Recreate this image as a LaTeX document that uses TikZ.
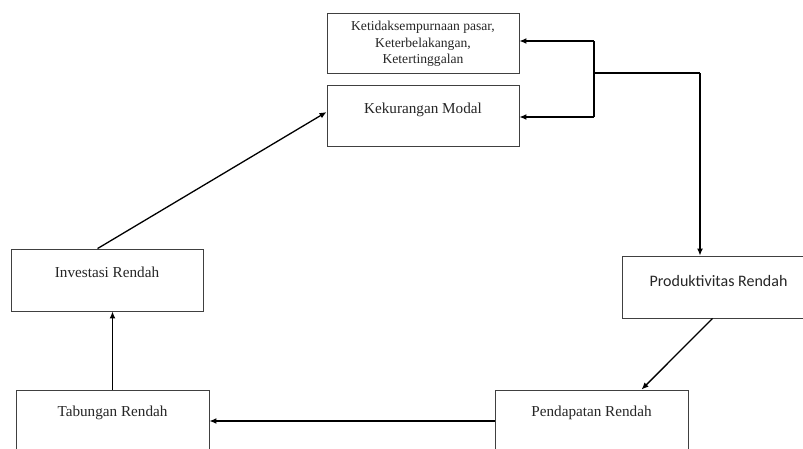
\documentclass[tikz,border=0pt]{standalone}
\usepackage{fontspec}
\setmainfont{Liberation Serif}
\newfontfamily\calfont{Carlito}
\usetikzlibrary{calc,arrows.meta}
\begin{document}
\begin{tikzpicture}[x=1pt,y=-1pt,
  box/.style={draw=black!75,line width=0.9pt,minimum width=192pt,minimum height=61pt,inner sep=0pt,fill=white},
  lbl/.style={text=black!85,font=\fontsize{15.2}{17}\selectfont,inner sep=0pt},
  arr/.style={draw=black,line width=1.3pt,-{Latex[length=7pt,width=6pt]}},
  ln/.style={draw=black,line width=1.3pt}]
\useasboundingbox (0,0) rectangle (803,448);
\clip (0,0) rectangle (803,448);
\fill[white] (0,0) rectangle (803,448);
% boxes
\node[box,minimum height=60pt] (k1) at (423,43) {};
\node[box] (k2) at (423,115.5) {};
\node[box,minimum height=62pt] (inv) at (107,280) {};
\node[box,minimum width=193pt,minimum height=62pt] (tab) at (112.5,421) {};
\node[box,minimum width=193pt,minimum height=62pt] (prod) at (718.5,287) {};
\node[box,minimum width=193pt,minimum height=62pt] (pend) at (591.5,421) {};
% texts
\node[lbl,align=center,font=\fontsize{13.6}{16.5}\selectfont] (t1) at ($(k1.center)+(0,1)$) {Ketidaksempurnaan pasar,\\Keterbelakangan,\\Ketertinggalan};
\node[lbl] (t2) at ($(k2.north)+(0,25)$) {Kekurangan Modal};
\node[lbl] (t3) at ($(inv.north)+(0,24)$) {Investasi Rendah};
\node[lbl] (t4) at ($(tab.north)+(0,23)$) {Tabungan Rendah};
\node[lbl,font=\calfont\fontsize{16}{18}\selectfont] (t5) at ($(prod.north)+(0,25)$) {Produktivitas Rendah};
\node[lbl] (t6) at ($(pend.north)+(0,23)$) {Pendapatan Rendah};
% connectors
\coordinate (j1) at (700,73);
\coordinate (j2) at (594,73);
\coordinate (j3) at (594,41);
\coordinate (j4) at (594,117);
\draw[ln] (j2) -- (j1);
\draw[arr] (j1) -- (j1 |- prod.north);
\draw[ln] (j3) -- (j4);
\draw[arr] (j3) -- (j3 -| k1.east);
\draw[arr] (j4) -- (j4 -| k2.east);
\draw[arr] ($(prod.south west)+(91,0)$) -- ($(pend.north west)+(147,0)$);
\draw[arr] (pend.west) -- (pend.west -| tab.east);
\draw[arr] (tab.north) -- (tab.north |- inv.south);
\draw[arr] ($(inv.north west)+(87,0)$) -- ($(k2.west)+(0,-3.5)$);
\end{tikzpicture}
\end{document}
